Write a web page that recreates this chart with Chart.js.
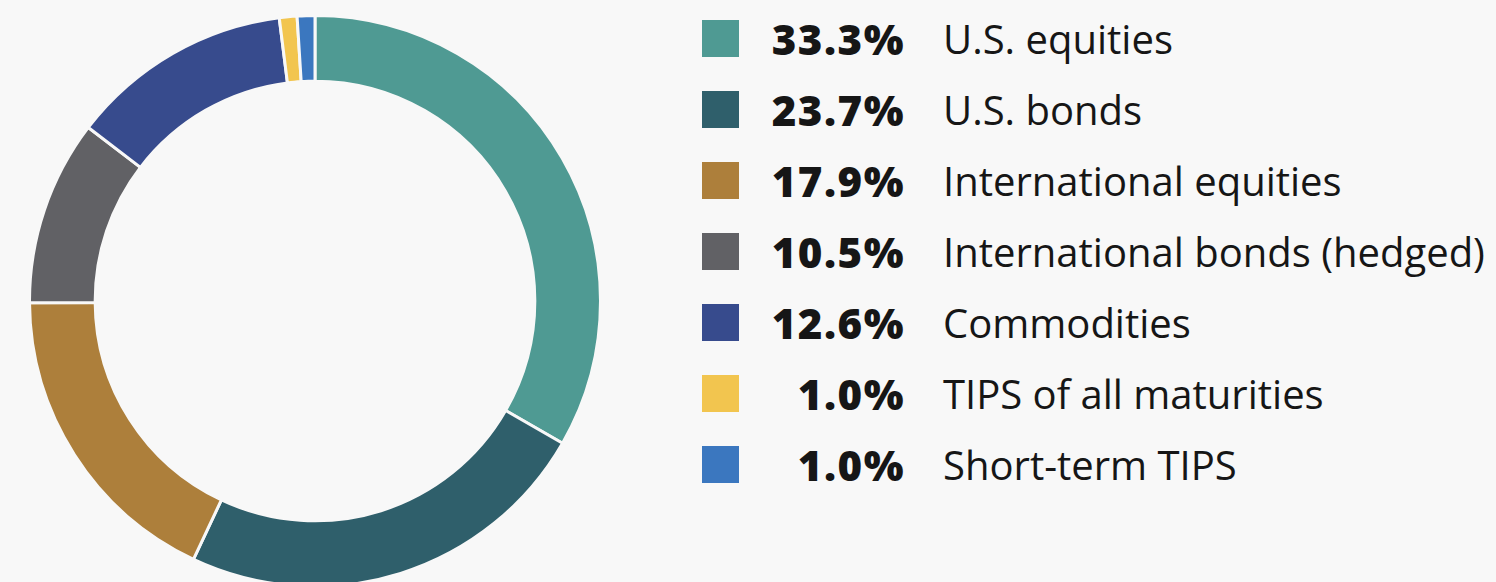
<!DOCTYPE html>
<html>
<head>
<meta charset="utf-8">
<script src="https://cdn.jsdelivr.net/npm/chart.js@4/dist/chart.umd.min.js"></script>
<style>
    html, body {
        margin: 0;
        padding: 0;
        background: #f8f8f8;
        width: 1496px;
        height: 582px;
        overflow: hidden;
    }
    #chartBox {
        position: absolute;
        left: 28px;
        top: 14px;
        width: 574px;
        height: 574px;
    }
    #legend {
        position: absolute;
        left: 702px;
        top: 20px;
        font-family: "Open Sans", "Noto Sans", sans-serif;
        font-variant-ligatures: none;
        color: #161616;
    }
    .row {
        display: flex;
        align-items: center;
        height: 37px;
        margin-bottom: 34px;
    }
    .swatch {
        width: 37px;
        height: 37px;
        flex: none;
    }
    .pct {
        width: 166px;
        flex: none;
        text-align: right;
        font-weight: 800;
        font-size: 42px;
        letter-spacing: 1.5px;
        line-height: 37px;
    }
    .label {
        margin-left: 38px;
        font-size: 40px;
        line-height: 37px;
        white-space: nowrap;
    }
</style>
</head>
<body>
<div id="chartBox"><canvas id="donut"></canvas></div>
<div id="legend"></div>
<script>
    // Portfolio allocation
    var categories = ['U.S. equities', 'U.S. bonds', 'International equities', 'International bonds (hedged)', 'Commodities', 'TIPS of all maturities', 'Short-term TIPS'];
    var shares = [33.3, 23.7, 17.9, 10.5, 12.6, 1.0, 1.0];
    var colors = ['#4f9a93', '#2f5f6b', '#ad7f3b', '#616165', '#374b8d', '#f2c54f', '#3b77bf'];

    // Legend on the right
    var legend = document.getElementById('legend');
    categories.forEach(function (name, i) {
        var row = document.createElement('div');
        row.className = 'row';
        row.innerHTML = '<div class="swatch" style="background:' + colors[i] + '"></div>' +
            '<div class="pct">' + shares[i].toFixed(1) + '%</div>' +
            '<div class="label">' + name + '</div>';
        legend.appendChild(row);
    });

    var ctx = document.getElementById('donut').getContext('2d');
    var myChart = new Chart(ctx, {
        type: 'doughnut',
        data: {
            labels: categories,
            datasets: [{
                data: shares,
                backgroundColor: colors,
                borderColor: '#f8f8f8',
                borderWidth: 3
            }]
        },
        options: {
            responsive: true,
            maintainAspectRatio: false,
            animation: false,
            cutout: '77%',
            layout: { padding: 0 },
            plugins: {
                legend: { display: false },
                tooltip: { enabled: false }
            }
        }
    });
</script>
</body>
</html>
